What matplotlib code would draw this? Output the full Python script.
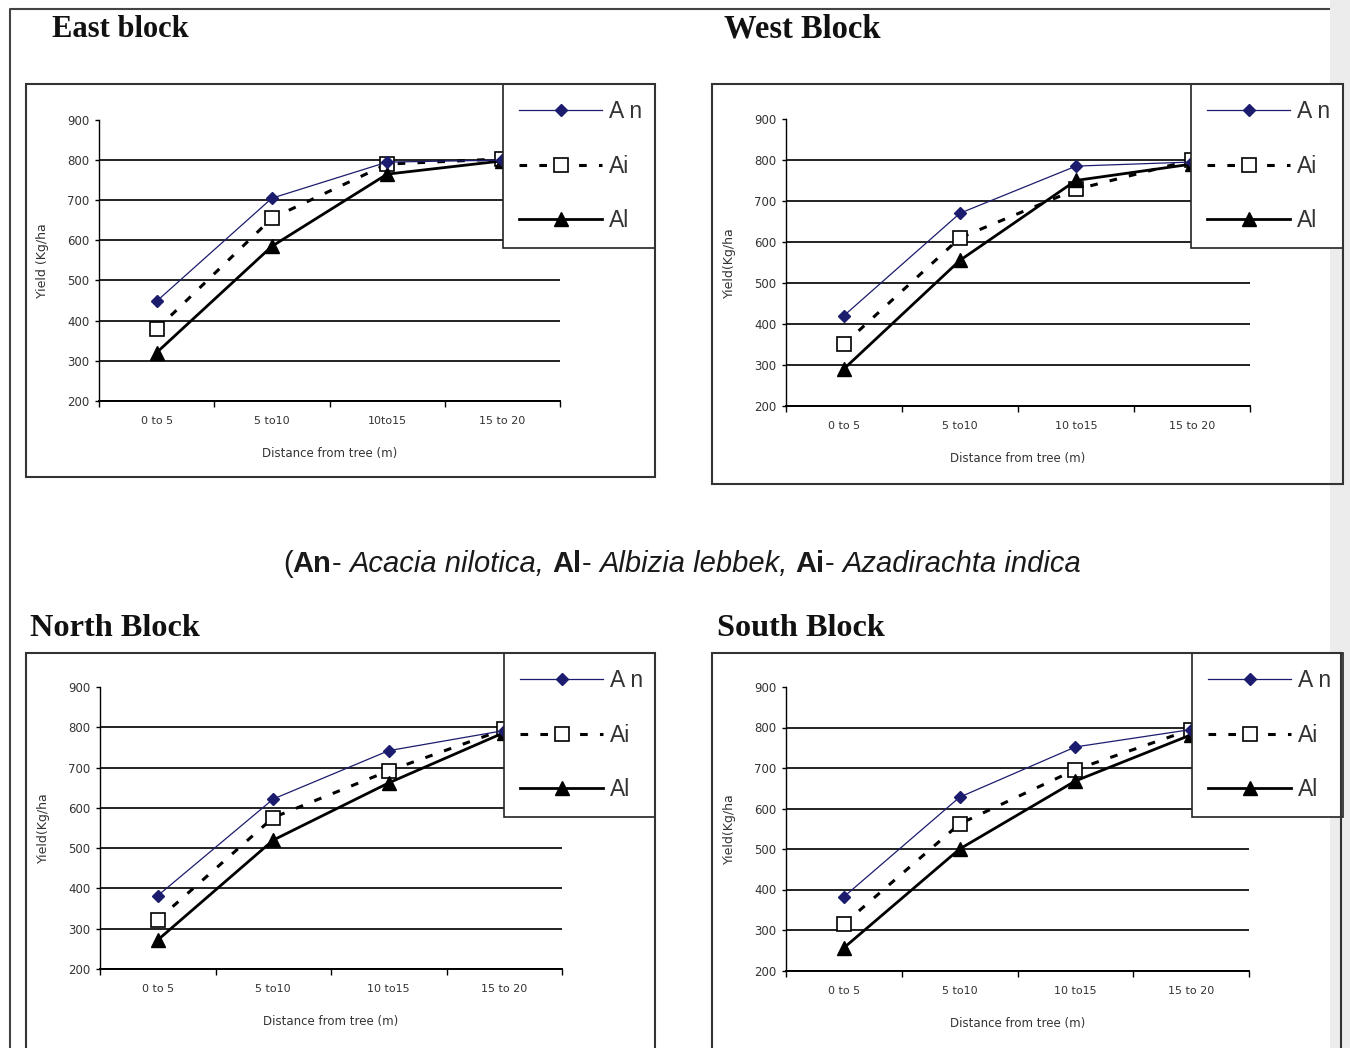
import matplotlib
matplotlib.use('Agg')
import matplotlib.pyplot as plt
from matplotlib.patches import Rectangle
from matplotlib.lines import Line2D
import numpy as np

W, H = 1350, 1048

cats_east = ["0 to 5", "5 to10", "10to15", "15 to 20"]
cats_other = ["0 to 5", "5 to10", "10 to15", "15 to 20"]
series_names = ["A n", "Ai", "Al"]

east_an = [448, 705, 795, 800]
east_ai = [378, 655, 790, 803]
east_al = [320, 585, 765, 798]

west_an = [420, 670, 785, 795]
west_ai = [350, 610, 728, 800]
west_al = [290, 555, 750, 790]

north_an = [382, 622, 742, 792]
north_ai = [322, 576, 692, 795]
north_al = [272, 520, 662, 787]

south_an = [382, 628, 752, 795]
south_ai = [315, 562, 696, 795]
south_al = [256, 500, 668, 782]

y_ticks = [200, 300, 400, 500, 600, 700, 800, 900]

plt.rcParams['font.family'] = ['Liberation Sans', 'DejaVu Sans']


def rect(l, t, r, b):
    # pixel box -> figure fraction
    return [l / W, 1 - b / H, (r - l) / W, (b - t) / H]


def draw_panel(fig, title, title_xy, tsize, frame, axbox, legbox, cats, an, ai, al, ylabel):
    fig.add_artist(Rectangle((frame[0] / W, 1 - frame[3] / H),
                             (frame[2] - frame[0]) / W, (frame[3] - frame[1]) / H,
                             transform=fig.transFigure, fill=False,
                             edgecolor='#333333', lw=1.5, zorder=1))
    fig.text(title_xy[0] / W, 1 - title_xy[1] / H, title, family='Liberation Serif',
             weight='bold', fontsize=tsize, color='#111111', va='baseline')

    ax = fig.add_axes(rect(*axbox))
    x = np.arange(len(cats)) + 0.5
    l1, = ax.plot(x, an, color='#1c1c6e', lw=0.9, marker='D', ms=6, zorder=4)
    l2, = ax.plot(x, ai, color='black', lw=2.2, ls=(0, (2.5, 4)), marker='s', ms=10,
                  mfc='white', mec='black', mew=1.2, zorder=3)
    l3, = ax.plot(x, al, color='black', lw=2.0, marker='^', ms=10, zorder=3)

    ax.set_xlim(0, len(cats))
    ax.set_ylim(200, 900)
    ax.set_yticks(y_ticks)
    ax.set_xticks(np.arange(len(cats) + 1))
    ax.set_xticklabels([])
    ax.set_xticks(x, minor=True)
    ax.set_xticklabels(cats, minor=True, family='DejaVu Sans')
    for t in ax.get_yticklabels():
        t.set_family('DejaVu Sans')
    ax.tick_params(axis='x', which='major', length=4, width=1, direction='out')
    ax.tick_params(axis='x', which='minor', length=0, pad=11, labelsize=8, labelcolor='#333333')
    ax.tick_params(axis='y', length=3, width=1, pad=4, labelsize=8.5, labelcolor='#333333')
    ax.yaxis.grid(True, color='#111111', lw=1.3)
    ax.get_ygridlines()[-1].set_visible(False)
    ax.set_axisbelow(True)
    for s in ['top', 'right']:
        ax.spines[s].set_visible(False)
    ax.spines['left'].set_linewidth(1.0)
    ax.spines['bottom'].set_linewidth(1.4)

    axw = axbox[2] - axbox[0]
    axh = axbox[3] - axbox[1]
    ax.set_xlabel('Distance from tree (m)', fontsize=8.5, color='#333333', family='DejaVu Sans')
    ax.xaxis.set_label_coords(0.5, -46 / axh)
    ax.set_ylabel(ylabel, fontsize=9, color='#333333', family='DejaVu Sans')
    ax.yaxis.set_label_coords(-50 / axw, 0.5)

    leg = ax.legend([l1, l2, l3], series_names, loc='upper left',
                    bbox_to_anchor=rect(*legbox), bbox_transform=fig.transFigure,
                    mode='expand', borderaxespad=0, fancybox=False, framealpha=1,
                    edgecolor='#222222', handlelength=3.6, handletextpad=0.3,
                    labelspacing=1.37, borderpad=0.71,
                    prop={'family': 'Liberation Sans', 'size': 16.5})
    leg.get_frame().set_linewidth(1.2)
    for t in leg.get_texts():
        t.set_color('#333333')
    leg.set_zorder(10)
    return ax


def caption(fig, x0, y0, size):
    pieces = [("(", 'normal', 'normal'), ("An", 'bold', 'normal'), ("-", 'normal', 'normal'),
              ("Acacia nilotica,", 'normal', 'italic'), ("Al", 'bold', 'normal'),
              ("-", 'normal', 'normal'), ("Albizia lebbek,", 'normal', 'italic'),
              ("Ai", 'bold', 'normal'), ("-", 'normal', 'normal'),
              ("Azadirachta indica", 'normal', 'italic')]
    space_after = [False, False, True, True, False, True, True, False, True, False]
    r = fig.canvas.get_renderer()
    t1 = fig.text(0, 0, "x x", fontsize=size)
    t2 = fig.text(0, 0, "xx", fontsize=size)
    sp = t1.get_window_extent(r).width - t2.get_window_extent(r).width
    t1.remove()
    t2.remove()
    x = x0
    for (txt, wt, st), gap in zip(pieces, space_after):
        t = fig.text(x / W, 1 - y0 / H, txt, fontsize=size, weight=wt, style=st,
                     color='#1a1a1a', va='baseline', ha='left')
        x += t.get_window_extent(r).width
        if gap:
            x += sp


def main():
    fig = plt.figure(figsize=(13.5, 10.48), dpi=100)

    # page border and grey strip at the right
    fig.add_artist(Line2D([10 / W, 10 / W, 1330 / W], [0, 1 - 9 / H, 1 - 9 / H],
                          transform=fig.transFigure, color='#444444', lw=1.5, zorder=-2))
    fig.add_artist(Rectangle((1330 / W, 0), 20 / W, 1, transform=fig.transFigure,
                             color='#ececec', lw=0, zorder=-1))

    draw_panel(fig, 'East block', (52, 37), 22, (26, 84, 655, 477), (99, 120, 560, 400.7),
               (503, 84, 655, 248), cats_east, east_an, east_ai, east_al, 'Yield (Kg/ha')
    draw_panel(fig, 'West Block', (724, 37), 23.5, (712, 84, 1343, 484), (786, 119, 1250, 405.7),
               (1191, 84, 1343, 250), cats_other, west_an, west_ai, west_al, 'Yield(Kg/ha')
    draw_panel(fig, 'North Block', (30, 636), 23.3, (26, 653, 655, 1060), (100, 687, 562, 969),
               (504, 653, 655, 816), cats_other, north_an, north_ai, north_al, 'Yield(Kg/ha')
    draw_panel(fig, 'South Block', (717, 636), 23.2, (712, 653, 1341, 1060), (786, 687, 1249, 970.5),
               (1192, 653, 1343, 816), cats_other, south_an, south_ai, south_al, 'Yield(Kg/ha')

    caption(fig, 283, 572, 21)

    fig.savefig('out.png', dpi=100)


if __name__ == '__main__':
    main()
